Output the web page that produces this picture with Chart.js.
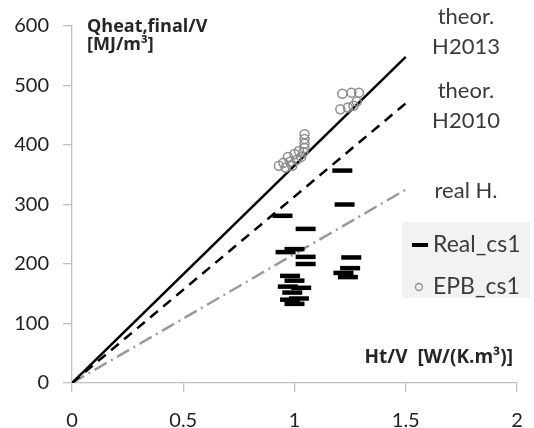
<!DOCTYPE html>
<html>
<head>
<meta charset="utf-8">
<script src="https://cdn.jsdelivr.net/npm/chart.js@4"></script>
<style>
html,body{margin:0;padding:0;background:#fff;}
#wrap{position:relative;width:534px;height:428px;}
</style>
</head>
<body>
<div id="wrap"><canvas id="c" width="534" height="428"></canvas></div>
<script>
// ---- data ----
const xTicks = [0, 0.5, 1, 1.5, 2];
const yTicks = [0, 100, 200, 300, 400, 500, 600];

const lineH2013 = [{x:0,y:0},{x:1.5,y:548}];
const lineH2010 = [{x:0,y:0},{x:1.5,y:470}];
const lineRealH = [{x:0,y:0},{x:1.5,y:325}];

const realX = [0.946,1.05,1.0,0.96,1.05,1.05,0.98,1.0,0.97,1.03,0.99,1.02,0.98,1.0,1.215,1.225,1.255,1.25,1.22,1.24];
const realY = [281,259,225,220,212,200,180,172,162,160,152,142,140,133,357,300,211,193,185,178];

const epbX = [0.93,0.95,0.96,0.97,0.98,0.99,1.0,1.01,1.02,1.03,1.04,1.045,1.045,1.045,1.045,1.215,1.256,1.29,1.206,1.24,1.265,1.28];
const epbY = [365,370,362,380,372,365,385,375,390,380,388,395,402,410,418,486,488,488,460,463,466,473];

const lineLabels = [
  {text:'theor.', y:17},{text:'H2013', y:47},
  {text:'theor.', y:91},{text:'H2010', y:121},
  {text:'real H.', y:191}
];
const legendLabels = ['Real_cs1','EPB_cs1'];

// ---- build ----
const realPts = realX.map((x,i)=>({x, y:realY[i]}));
const epbPts = epbX.map((x,i)=>({x, y:epbY[i]}));
const FONT = 'Lato, "Open Sans", sans-serif';
const TXT = '#3a3a3a';

const overlay = {
  id:'overlay',
  afterDraw(chart){
    const ctx = chart.ctx;
    ctx.save();
    ctx.fillStyle = '#262626';
    ctx.textBaseline = 'middle';
    // axis titles inside plot
    ctx.font = 'bold 18px "Open Sans", sans-serif';
    ctx.textAlign = 'left';
    ctx.fillText('Qheat,final/V', 87, 27);
    ctx.fillText('[MJ/m³]', 87, 45);
    ctx.textAlign = 'right';
    ctx.font = 'bold 19px "Open Sans", sans-serif';
    ctx.fillText('Ht/V  [W/(K.m³)]', 513, 358);
    // line labels
    ctx.fillStyle = TXT;
    ctx.font = '22px ' + FONT;
    ctx.textAlign = 'center';
    lineLabels.forEach(l=>ctx.fillText(l.text, 466, l.y));
    // legend box
    ctx.fillStyle = '#f2f2f2';
    ctx.fillRect(402, 222, 128, 76);
    ctx.fillStyle = TXT;
    ctx.textAlign = 'left';
    ctx.font = '23px ' + FONT;
    ctx.fillText(legendLabels[0], 433, 245);
    ctx.fillText(legendLabels[1], 433, 287);
    ctx.strokeStyle = '#000';
    ctx.lineWidth = 4;
    ctx.beginPath(); ctx.moveTo(412,245); ctx.lineTo(428,245); ctx.stroke();
    ctx.strokeStyle = '#8c8c8c';
    ctx.lineWidth = 1.3;
    ctx.beginPath(); ctx.arc(419,287,3.5,0,Math.PI*2); ctx.stroke();
    ctx.restore();
  }
};

new Chart(document.getElementById('c'), {
  type:'scatter',
  data:{
    datasets:[
      {label:'theor. H2013', data:lineH2013, showLine:true, pointRadius:0, borderColor:'#000', borderWidth:2.5, order:3},
      {label:'theor. H2010', data:lineH2010, showLine:true, pointRadius:0, borderColor:'#000', borderWidth:2.5, borderDash:[10,7], order:3},
      {label:'real H.', data:lineRealH, showLine:true, pointRadius:0, borderColor:'#9a9a9a', borderWidth:2.5, borderDash:[14,5,2,5], order:3},
      {label:'Real_cs1', data:realPts, pointStyle:'line', pointRadius:10, pointBorderWidth:4.5, borderColor:'#000', backgroundColor:'#000', order:1},
      {label:'EPB_cs1', data:epbPts, pointStyle:'circle', pointRadius:4.5, pointBorderWidth:1.5, borderColor:'#8c8c8c', backgroundColor:'rgba(0,0,0,0)', order:2}
    ]
  },
  options:{
    responsive:false,
    animation:false,
    events:[],
    layout:{padding:{left:0,right:17,top:20,bottom:0}},
    plugins:{legend:{display:false}, tooltip:{enabled:false}},
    scales:{
      x:{
        type:'linear', min:0, max:2,
        afterBuildTicks(s){ s.ticks = xTicks.map(v=>({value:v})); },
        afterFit(s){ s.height = 45; s.paddingLeft = 0; s.paddingRight = 0; },
        grid:{drawOnChartArea:false, drawTicks:true, tickLength:9, color:'#bfbfbf', lineWidth:1.3},
        border:{color:'#bfbfbf', width:1.3},
        ticks:{color:'#222', font:{family:FONT, size:20}, padding:17, maxRotation:0,
               callback:v=>String(v)}
      },
      y:{
        type:'linear', min:0, max:600,
        afterBuildTicks(s){ s.ticks = yTicks.map(v=>({value:v})); },
        afterFit(s){ s.width = 72; },
        grid:{drawOnChartArea:false, drawTicks:true, tickLength:9, color:'#bfbfbf', lineWidth:1.3},
        border:{color:'#bfbfbf', width:1.3},
        ticks:{color:'#222', font:{family:FONT, size:20}, padding:14}
      }
    }
  },
  plugins:[overlay]
});
</script>
</body>
</html>
